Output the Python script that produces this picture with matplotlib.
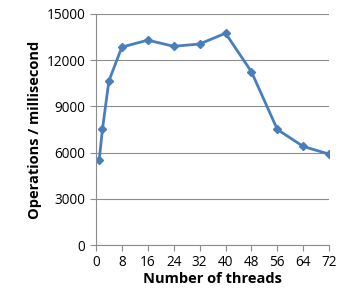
import matplotlib.pyplot as plt

threads = [1, 2, 4, 8, 16, 24, 32, 40, 48, 56, 64, 72]
ops_per_ms = [5500, 7500, 10650, 12850, 13300, 12900, 13050, 13750, 11250, 7500, 6400, 5900]
x_ticks = [0, 8, 16, 24, 32, 40, 48, 56, 64, 72]
y_ticks = [0, 3000, 6000, 9000, 12000, 15000]

plt.rcParams['font.family'] = ['Open Sans', 'DejaVu Sans']

fig = plt.figure(figsize=(3.39, 2.97), dpi=100)
ax = fig.add_axes([0.283, 0.175, 0.688, 0.778])

ax.plot(threads, ops_per_ms, color='#4A7EBB', linewidth=2, marker='D', markersize=4.5)

ax.set_xlim(0, 72)
ax.set_ylim(0, 15000)
ax.set_xticks(x_ticks)
ax.set_yticks(y_ticks)
ax.tick_params(labelsize=9.8, colors='#8c8c8c', labelcolor='black', length=4, width=0.8)
ax.grid(True, axis='y', color='#8c8c8c', linewidth=0.8)
ax.set_axisbelow(True)
for s in ['top', 'right']:
    ax.spines[s].set_visible(False)
for s in ['left', 'bottom']:
    ax.spines[s].set_color('#8c8c8c')
    ax.spines[s].set_linewidth(0.8)

ax.set_xlabel('Number of threads', fontsize=10.5, fontweight='bold', labelpad=1)
ax.set_ylabel('Operations / millisecond', fontsize=10.5, fontweight='bold', labelpad=3)

fig.savefig('out.png', dpi=100)
